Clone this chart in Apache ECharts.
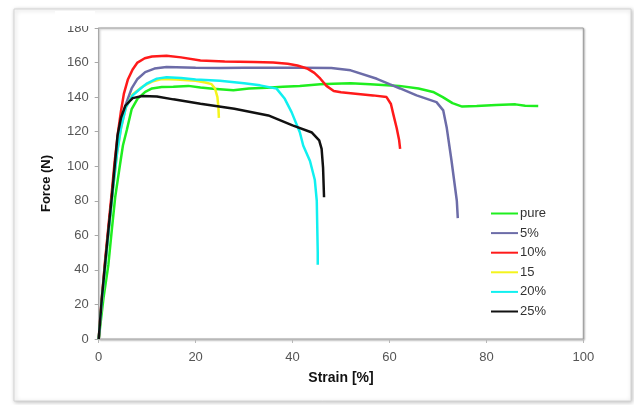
<!DOCTYPE html>
<html>
<head>
<meta charset="utf-8">
<script src="https://cdn.jsdelivr.net/npm/echarts@6/dist/echarts.min.js"></script>
<style>
  html, body { margin: 0; padding: 0; background: #fff; }
  #main { width: 634px; height: 405px; }
</style>
</head>
<body>
<div id="main"></div>
<script>
// series names
var seriesNames = ['pure', '5%', '10%', '15', '20%', '25%']

// strain [%], force (N) pairs for each curve
var pureData = [[0,0],[1,24],[2,43],[2.7,63],[3.4,82],[4.4,101],[5,112],[5.8,121],[6.8,133],[8,139],[9.6,143],[11,145],[13,145.8],[15.4,146],[18.5,146.5],[21,145.5],[23.6,144.9],[27.8,144],[31,145],[34.7,145.4],[38,146],[41.5,146.5],[45.7,147.5],[48.4,147.8],[52,148],[56,147.5],[62,146.5],[66,145],[69,143],[71,140],[73,136.5],[75,134.5],[78,134.8],[82,135.5],[86,135.8],[88,135],[90.7,134.8]]
var pct5Data = [[0,0],[0.6,20],[1.4,45],[2.2,68],[3,90],[3.8,110],[4.5,123],[5.5,135],[6.8,145],[8,150.5],[9.6,154.5],[11.5,156.5],[14,157.4],[20,157],[25,156.8],[30,157],[35,157],[41.5,157],[48,156.8],[52,155.5],[57.4,150.6],[60,147.5],[62.2,145],[65.6,141],[69.7,137.1],[71.1,132.3],[71.8,122.6],[72.8,103.3],[73.9,80],[74.1,70]]
var pct10Data = [[0,0],[0.6,22],[1.3,45],[2,65],[2.7,85],[3.3,103],[4,120],[4.6,132],[5.2,142],[6,150],[7,156],[8,160],[9.5,162.5],[11,163.5],[14,164],[17,163],[21,161.2],[26,160.6],[32,160.3],[36,160],[39,159.3],[41,158.3],[43,156.6],[44.5,154],[45.7,150.8],[47,146.5],[48.5,143.5],[50,142.8],[53,142],[56.6,141],[59.4,140],[60.3,136],[60.8,130],[61.5,122],[62,115],[62.2,110]]
var pct15Data = [[0,0],[0.6,20],[1.4,44],[2.2,66],[3,88],[3.8,108],[4.6,122],[5.6,134],[7,141.5],[9,146],[11,149],[13,150.5],[16,150.2],[20,149.4],[22,148.5],[23.3,147.5],[24,145],[24.5,140],[24.7,134],[24.8,128]]
var pct20Data = [[0,0],[0.6,20],[1.4,44],[2.2,66],[3,88],[3.8,108],[4.6,122],[5.6,134],[7,141],[8.2,144],[10,148],[12,150.7],[14,151.5],[17,151],[20,150.2],[25,149.5],[30,148],[33.3,146.8],[36.7,144.9],[38.4,139],[39.8,131.3],[41.5,119.7],[42.2,112],[43.6,103],[44.6,92],[45,80],[45.1,65],[45.2,50],[45.2,43]]
var pct25Data = [[0,0],[0.6,22],[1.3,43],[2,63],[2.7,82],[3.3,100],[3.9,118],[4.6,128],[5.5,135],[7,139.4],[9,140.6],[12,140.4],[15.4,138.7],[21,136.2],[28,133.3],[35,129.4],[40,123.6],[44,119.5],[45.5,115],[46,110],[46.3,99],[46.5,82]]

var allData = [pureData, pct5Data, pct10Data, pct15Data, pct20Data, pct25Data]
var lineColors = ['#1fee1f', '#6c6ca8', '#ff1a1a', '#f4f41c', '#10f0f0', '#111111']

var chart = echarts.init(document.getElementById('main'))

var series = seriesNames.map(function (name, i) {
  return {
    name: name,
    type: 'line',
    data: allData[i],
    symbol: 'none',
    smooth: false,
    lineStyle: { width: 2.5, color: lineColors[i] },
    itemStyle: { color: lineColors[i] }
  }
})

chart.setOption({
  animation: false,
  // outer frame
  graphic: [
    {
      type: 'rect',
      shape: { x: 14, y: 9, width: 617, height: 392 },
      style: { fill: '#fff', stroke: '#d4d4d4', lineWidth: 1, shadowBlur: 4, shadowColor: 'rgba(0,0,0,0.25)', shadowOffsetX: 1, shadowOffsetY: 1 },
      z: -10
    },
    {
      // top of "180" is cut off in the picture
      type: 'rect',
      shape: { x: 55, y: 11, width: 40, height: 15 },
      style: { fill: '#fff' },
      z: 100
    }
  ],
  grid: {
    left: 98.7,
    right: 50.7,
    top: 28,
    bottom: 66,
    show: true,
    borderColor: '#9a9a9a',
    borderWidth: 1,
    shadowColor: 'rgba(0,0,0,0.3)',
    shadowBlur: 2,
    shadowOffsetX: 1,
    shadowOffsetY: 1,
    backgroundColor: '#fff'
  },
  legend: {
    data: seriesNames,
    orient: 'vertical',
    left: 485,
    top: 202,
    itemWidth: 27,
    itemHeight: 14,
    itemGap: 6.6,
    itemStyle: { opacity: 0 },
    textStyle: { fontFamily: 'Liberation Sans', fontSize: 13, color: '#333', padding: [0, 0, 0, -3] }
  },
  xAxis: {
    type: 'value',
    min: 0,
    max: 100,
    interval: 20,
    name: 'Strain [%]',
    nameLocation: 'middle',
    nameGap: 32,
    nameTextStyle: { fontFamily: 'Liberation Sans', fontSize: 14, fontWeight: 'bold', color: '#111' },
    axisLine: { lineStyle: { color: '#b8b8b8' } },
    axisTick: { length: 4, lineStyle: { color: '#b8b8b8' } },
    axisLabel: { fontFamily: 'Liberation Sans', fontSize: 13, color: '#555', margin: 12 },
    splitLine: { show: false }
  },
  yAxis: {
    type: 'value',
    min: 0,
    max: 180,
    interval: 20,
    name: 'Force (N)',
    nameLocation: 'middle',
    nameGap: 46,
    nameTextStyle: { fontFamily: 'Liberation Sans', fontSize: 13, fontWeight: 'bold', color: '#111' },
    axisLine: { show: true, lineStyle: { color: '#a8a8a8' } },
    axisTick: { show: true, length: 4, lineStyle: { color: '#a8a8a8' } },
    axisLabel: { fontFamily: 'Liberation Sans', fontSize: 13, color: '#555', margin: 10 },
    splitLine: { show: false }
  },
  series: series
})
</script>
</body>
</html>
